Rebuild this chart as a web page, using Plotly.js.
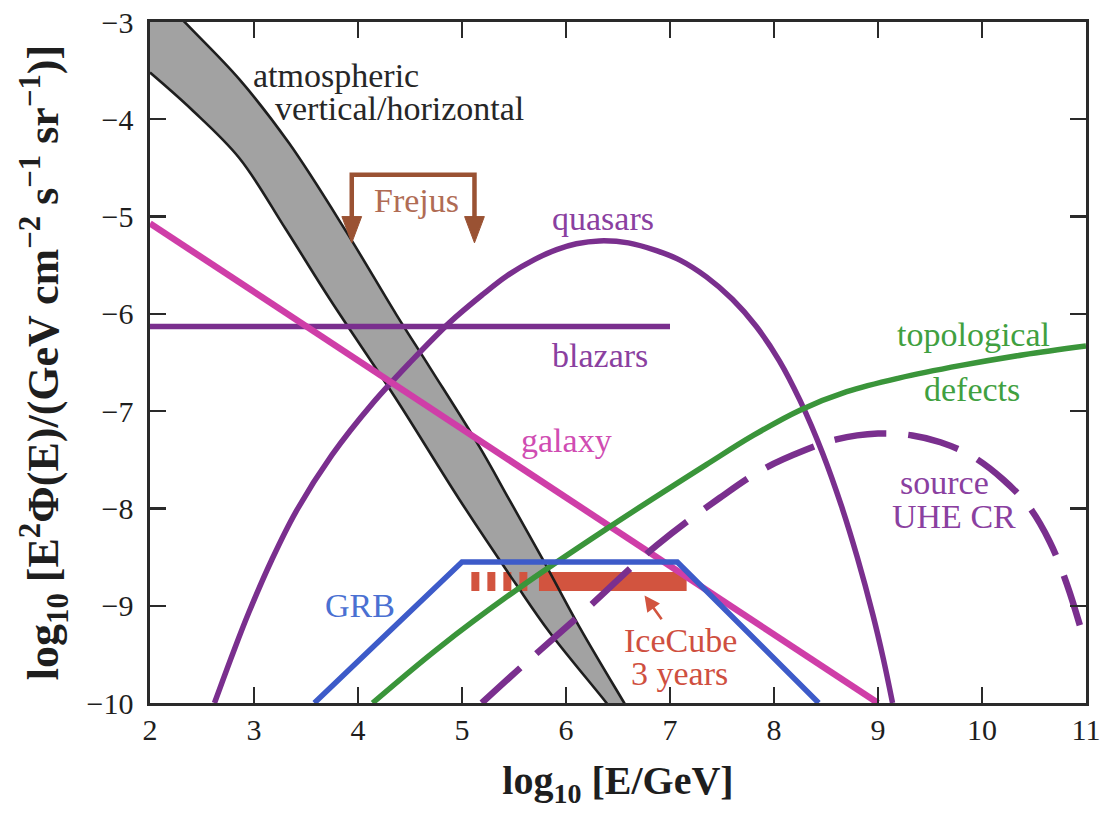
<!DOCTYPE html>
<html>
<head>
<meta charset="utf-8">
<script src="https://cdn.plot.ly/plotly-3.0.1.min.js"></script>
<style>
  html, body { margin: 0; padding: 0; background: #ffffff; }
  #chart { width: 1102px; height: 825px; }
</style>
</head>
<body>
<div id="chart"></div>
<script>
// Neutrino flux models: log10 E (GeV) vs log10 E^2 Phi(E)

// Atmospheric neutrino band (horizontal = upper edge, vertical = lower edge)
const atmHiX = [2.0, 2.36, 2.86, 3.34, 3.89, 4.37, 4.69, 5.17, 5.46, 5.77, 6.13, 6.56, 6.70];
const atmHiY = [-2.63, -3.03, -3.59, -4.25, -5.16, -6.01, -6.55, -7.37, -7.92, -8.51, -9.22, -10.0, -10.25];
const atmLoX = [2.0, 2.40, 2.86, 3.30, 3.73, 4.37, 4.97, 5.52, 5.84, 6.39, 6.55];
const atmLoY = [-3.52, -3.90, -4.40, -5.12, -5.85, -6.88, -7.90, -8.78, -9.27, -10.0, -10.22];

// Galactic plane flux
const galaxyX = [2.0, 9.0];
const galaxyY = [-5.07, -10.0];

// Blazars (flat)
const blazarX = [2.0, 7.0];
const blazarY = [-6.13, -6.13];

// Quasars
const quasarX = [2.62, 2.80, 2.95, 3.17, 3.40, 3.75, 4.14, 4.50, 4.88, 5.20, 5.43, 5.70, 5.91, 6.10, 6.32, 6.60, 6.87, 7.10, 7.35, 7.60, 7.83, 8.05, 8.25, 8.47, 8.65, 8.80, 8.95, 9.05, 9.14];
const quasarY = [-10.0, -9.48, -9.07, -8.53, -8.04, -7.45, -6.92, -6.50, -6.09, -5.80, -5.61, -5.44, -5.34, -5.28, -5.25, -5.27, -5.35, -5.45, -5.62, -5.85, -6.13, -6.48, -6.89, -7.44, -7.98, -8.50, -9.09, -9.54, -10.0];

// Topological defects
const topoX = [4.14, 4.78, 5.52, 6.39, 7.35, 7.80, 8.25, 8.70, 9.20, 9.80, 10.40, 11.0];
const topoY = [-10.0, -9.43, -8.84, -8.21, -7.55, -7.25, -6.99, -6.80, -6.66, -6.53, -6.42, -6.33];

// Gamma-ray bursts
const grbX = [3.58, 5.00, 7.07, 8.43];
const grbY = [-10.0, -8.55, -8.55, -10.0];

// Sources of ultra-high-energy cosmic rays
const uheX = [5.19, 5.58, 6.13, 6.87, 7.48, 7.89, 8.30, 8.60, 9.00, 9.33, 9.60, 9.90, 10.20, 10.45, 10.65, 10.82, 11.0];
const uheY = [-10.0, -9.62, -9.10, -8.38, -7.89, -7.60, -7.40, -7.29, -7.23, -7.25, -7.32, -7.46, -7.70, -7.98, -8.34, -8.79, -9.42];

// IceCube 3-year sensitivity
const iceY = -8.75;
const iceDashX = [5.09, 5.67];
const iceSolidX = [5.74, 7.16];
const iceArrowTip = [6.755, -8.895];
const iceArrowTail = [6.93, -9.155];

// Frejus upper limits
const frejusX = [3.94, 5.12];
const frejusTop = -4.57;
const frejusTip = -5.27;

// Axis ticks
const xTicks = [2, 3, 4, 5, 6, 7, 8, 9, 10, 11];
const yTicks = [-3, -4, -5, -6, -7, -8, -9, -10];

const SERIF = "'Liberation Serif', 'Times New Roman', Tinos, serif";
const C = {
  purple: '#7a2f8e', purpleText: '#8a40a0',
  magenta: '#cf3ea8', magentaText: '#d04cb2',
  blue: '#3d5bc9', blueText: '#4a70d2',
  green: '#3a953a', greenText: '#40a040',
  red: '#d2543f', redText: '#cf4f40',
  brown: '#9a5233', brownText: '#b06c54',
  black: '#1e1e1e', band: '#a2a2a2'
};

function line(x, y, color, width, extra) {
  return Object.assign({
    type: 'scatter', mode: 'lines', x: x, y: y, hoverinfo: 'skip',
    line: { color: color, width: width }
  }, extra || {});
}
function smooth(x, y, color, width, dash) {
  const l = { color: color, width: width, shape: 'spline', smoothing: 1 };
  if (dash) l.dash = dash;
  return { type: 'scatter', mode: 'lines', x: x, y: y, hoverinfo: 'skip', line: l };
}

// Frejus bracket and arrowheads
const headHalf = 0.095, headLen = 0.27;
const frejusPathX = [frejusX[0], frejusX[0], frejusX[1], frejusX[1]];
const frejusPathY = [frejusTip + headLen * 0.8, frejusTop, frejusTop, frejusTip + headLen * 0.8];
const headsX = [], headsY = [];
frejusX.forEach(function (fx) {
  headsX.push(fx - headHalf, fx + headHalf, fx, fx - headHalf, null);
  headsY.push(frejusTip + headLen, frejusTip + headLen, frejusTip, frejusTip + headLen, null);
});

const traces = [
  // shaded atmospheric band
  {
    type: 'scatter', mode: 'lines', hoverinfo: 'skip',
    x: atmHiX.concat(atmLoX.slice().reverse()),
    y: atmHiY.concat(atmLoY.slice().reverse()),
    fill: 'toself', fillcolor: C.band, line: { width: 0, shape: 'spline', smoothing: 1 }
  },
  line(iceDashX, [iceY, iceY], C.red, 19, { line: { color: C.red, width: 19, dash: '8px,8px' } }),
  line(iceSolidX, [iceY, iceY], C.red, 19),
  smooth(atmHiX, atmHiY, C.black, 2.6),
  smooth(atmLoX, atmLoY, C.black, 2.6),
  line(blazarX, blazarY, C.purple, 5.5),
  smooth(quasarX, quasarY, C.purple, 5.5),
  line(galaxyX, galaxyY, C.magenta, 6.5),
  smooth(topoX, topoY, C.green, 5.5),
  line(grbX, grbY, C.blue, 5.5),
  smooth(uheX, uheY, C.purple, 6.5, '52px,22px'),
  line(frejusPathX, frejusPathY, C.brown, 4.5),
  {
    type: 'scatter', mode: 'lines', hoverinfo: 'skip', x: headsX, y: headsY,
    fill: 'toself', fillcolor: C.brown, line: { color: C.brown, width: 1 }
  }
];

function label(text, x, y, color) {
  return {
    text: text, x: x, y: y, xref: 'x', yref: 'y', showarrow: false,
    xanchor: 'center', yanchor: 'middle',
    font: { family: SERIF, size: 34, color: color }
  };
}

const annotations = [
  label('atmospheric', 3.79, -3.555, '#262626'),
  label('vertical/horizontal', 4.40, -3.89, '#262626'),
  label('Frejus', 4.565, -4.83, C.brownText),
  label('quasars', 6.36, -5.02, C.purpleText),
  label('blazars', 6.33, -6.43, C.purpleText),
  label('galaxy', 6.00, -7.30, C.magentaText),
  label('topological', 9.92, -6.21, C.greenText),
  label('defects', 9.90, -6.78, C.greenText),
  label('source', 9.64, -7.735, C.purpleText),
  label('UHE CR', 9.73, -8.085, C.purpleText),
  label('GRB', 4.02, -9.0, C.blueText),
  label('IceCube', 7.10, -9.355, C.redText),
  label('3 years', 7.09, -9.695, C.redText),
  {
    text: '', x: iceArrowTip[0], y: iceArrowTip[1], xref: 'x', yref: 'y',
    ax: iceArrowTail[0], ay: iceArrowTail[1], axref: 'x', ayref: 'y',
    showarrow: true, arrowhead: 2, arrowsize: 1.2, arrowwidth: 2.6, arrowcolor: C.red
  }
];

const axisCommon = {
  showline: true, linecolor: '#2a2a2a', linewidth: 2.6, mirror: 'ticks',
  ticks: 'inside', ticklen: 16, tickwidth: 2.4, tickcolor: '#2a2a2a',
  showgrid: false, zeroline: false, fixedrange: true,
  tickfont: { family: SERIF, size: 30, color: '#1e1e1e' }
};

const layout = {
  width: 1102, height: 825,
  margin: { l: 150, r: 16, t: 22, b: 122 },
  paper_bgcolor: '#ffffff', plot_bgcolor: '#ffffff',
  showlegend: false,
  font: { family: SERIF },
  xaxis: Object.assign({}, axisCommon, {
    range: [2, 11], tickvals: xTicks, ticktext: xTicks.map(String),
    ticklabelstandoff: -2,
    title: { text: 'log<sub>10</sub> [E/GeV]', standoff: 22,
             font: { family: SERIF, size: 40, color: '#1e1e1e', weight: 'bold' } }
  }),
  yaxis: Object.assign({}, axisCommon, {
    range: [-10, -3], tickvals: yTicks,
    ticklabelstandoff: 8,
    title: { text: 'log<sub>10</sub> [E<sup>2</sup>Φ(E)/(GeV cm<sup>−2</sup> s<sup>−1</sup> sr<sup>−1</sup>)]', standoff: 14,
             font: { family: SERIF, size: 44, color: '#1e1e1e', weight: 'bold' } }
  }),
  annotations: annotations
};

Plotly.newPlot('chart', traces, layout, { staticPlot: true, displayModeBar: false });
</script>
</body>
</html>
